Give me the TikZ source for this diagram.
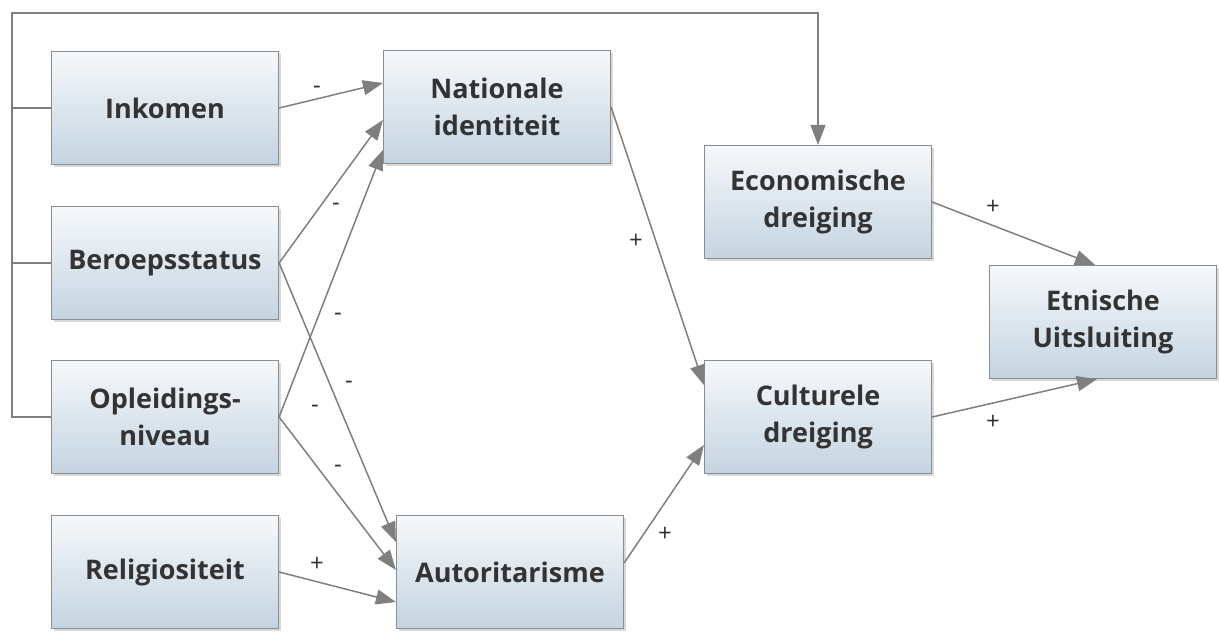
\documentclass[tikz,border=0pt]{standalone}
\usepackage{fontspec}
\setmainfont{Open Sans}
\usetikzlibrary{arrows.meta,shadows}
\definecolor{boxtop}{HTML}{F6F9FB}
\definecolor{boxmid}{HTML}{DDE6EE}
\definecolor{boxbot}{HTML}{C4D4E1}
\definecolor{edgegray}{HTML}{7F7F7F}
\definecolor{framegray}{HTML}{8C8C8C}
\definecolor{textgray}{HTML}{333333}

\begin{document}
\begin{tikzpicture}[x=0.5pt,y=-0.5pt,
    factor/.style={draw=framegray,line width=0.6pt,
      top color=boxtop,bottom color=boxbot,middle color=boxmid,
      minimum width=113.5pt,minimum height=56.5pt,align=center,text=textgray,
      font=\fontsize{13.5}{18.5}\selectfont\bfseries,
      drop shadow={shadow xshift=1.2pt,shadow yshift=-1.2pt,opacity=0.3}},
    wire/.style={draw=edgegray,line width=0.75pt},
    link/.style={wire,-{Triangle[length=10pt,width=7.5pt]}},
    sign/.style={text=textgray,font=\fontsize{12}{14}\selectfont,inner sep=0pt}]
      \useasboundingbox (0,0) rectangle (1219,631);
      \node[factor] (ink) at (165,108) {Inkomen};
      \node[factor] (ber) at (165,263) {Beroepsstatus};
      \node[factor] (opl) at (165,417) {Opleidings-\\niveau};
      \node[factor] (rel) at (165,572) {Religiositeit};
      \node[factor] (nat) at (497,107) {Nationale\\identiteit};
      \node[factor] (aut) at (510,572) {Autoritarisme};
      \node[factor] (eco) at (818,202) {Economische\\dreiging};
      \node[factor] (cul) at (818,417) {Culturele\\dreiging};
      \node[factor] (etn) at (1103,322) {Etnische\\Uitsluiting};
      \coordinate (corner) at (12,13);
      \draw[link] (opl.west) -| (corner) -| (eco.north);
      \draw[wire] (ink.west) -- (ink.west -| corner);
      \draw[wire] (ber.west) -- (ber.west -| corner);
      \draw[link] (ink.east) -- ([yshift=12pt]nat.west);
      \draw[link] (ber.east) -- ([yshift=-6.5pt]nat.west);
      \draw[link] (opl.east) -- ([yshift=-21.5pt]nat.west);
      \draw[link] (ber.east) -- ([yshift=15pt]aut.west);
      \draw[link] (opl.east) -- ([yshift=1pt]aut.west);
      \draw[link] (rel.east) -- ([yshift=-15pt]aut.west);
      \draw[link] (nat.east) -- ([yshift=16pt]cul.west);
      \draw[link] ([yshift=4.5pt]aut.east) -- ([yshift=-14pt]cul.west);
      \draw[link] (eco.east) -- ([xshift=-4pt]etn.north);
      \draw[link] (cul.east) -- ([xshift=-3pt]etn.south);
      \foreach \x/\y [count=\i] in {317/90,336/207,338/317,349/385,315/409,338/469}
        \node[sign] (minus\i) at (\x,\y) {-};
      \foreach \x/\y [count=\i] in {317/564,665/534,636/241,993/207,993/422}
        \node[sign] (plus\i) at (\x,\y) {+};
    \end{tikzpicture}
\end{document}
